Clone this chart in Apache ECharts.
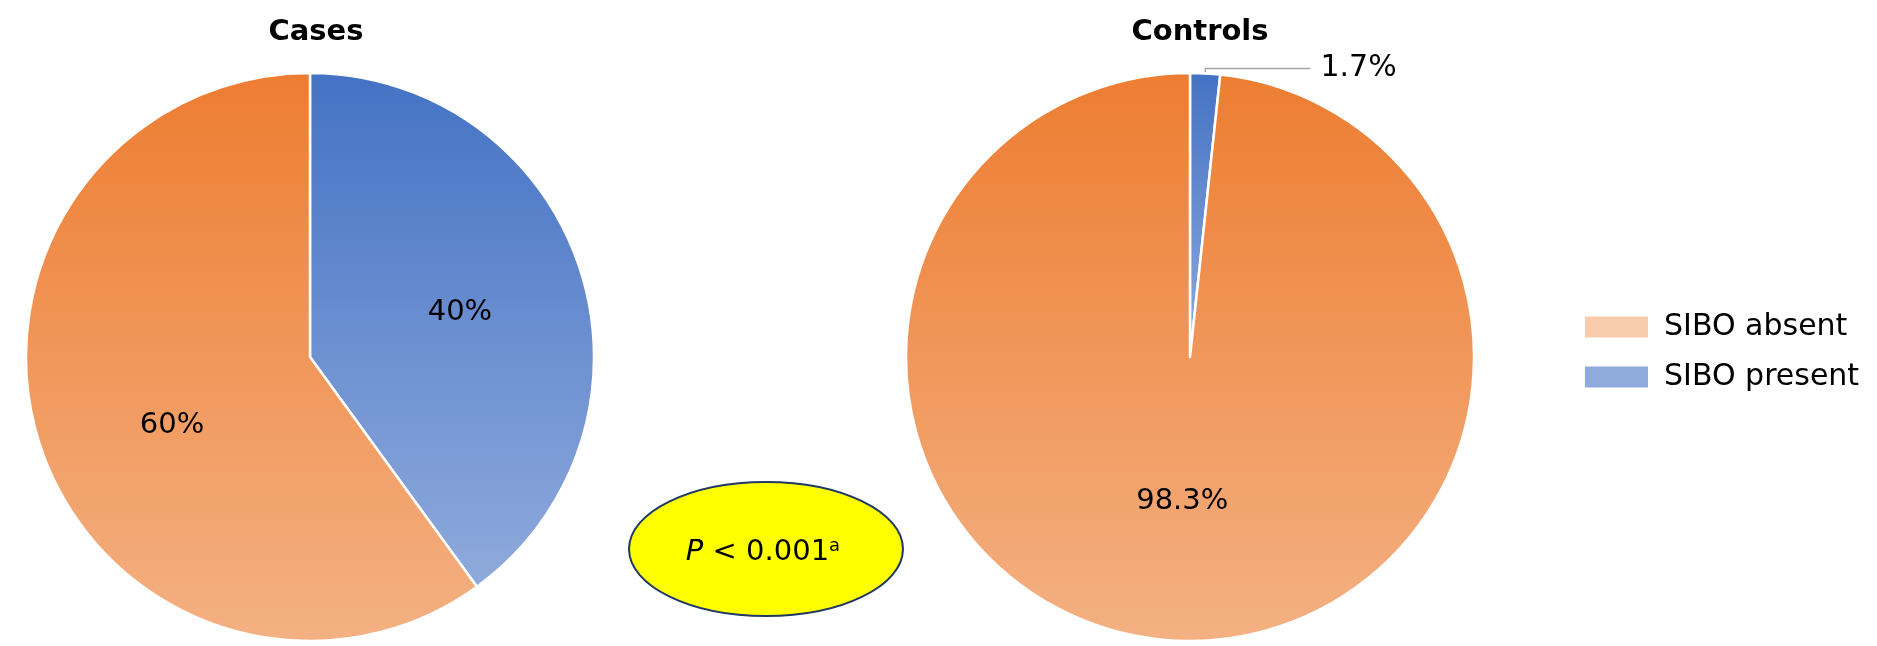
<!DOCTYPE html>
<html>
<head>
<meta charset="utf-8">
<script src="https://cdn.jsdelivr.net/npm/echarts@6/dist/echarts.min.js"></script>
<style>
  html, body { margin: 0; padding: 0; background: #fff; }
  #sibo { width: 1877px; height: 646px; }
</style>
</head>
<body>
<div id="sibo"></div>
<script>
var siboChart = echarts.init(document.getElementById('sibo'));

// groups and their SIBO proportions (%)
var groups = ['Cases', 'Controls'];
var categories = ['SIBO present', 'SIBO absent'];
var casesValues = [40, 60];
var controlsValues = [1.7, 98.3];
var labelTexts = [['40%', '60%'], ['1.7%', '98.3%']];

var FONT = 'DejaVu Sans';

function grad(top, bottom) {
    return new echarts.graphic.LinearGradient(0, 0, 0, 1, [
        { offset: 0, color: top },
        { offset: 1, color: bottom }
    ]);
}
var sliceColors = {
    'SIBO present': grad('#4472C4', '#8FAADC'),
    'SIBO absent': grad('#ED7D31', '#F4B183')
};
var legendColors = {
    'SIBO absent': '#F8CBAD',
    'SIBO present': '#8FAADC'
};

function buildData(values, texts, outsideIdx) {
    return values.map(function (v, i) {
        var item = {
            name: categories[i],
            value: v,
            itemStyle: { color: sliceColors[categories[i]] },
            label: { formatter: texts[i] }
        };
        if (i === outsideIdx) {
            item.label.position = 'outside';
            item.label.distanceToLabelLine = 10;
            item.label.fontSize = 30;
            item.labelLine = { show: true, length: 5, length2: 105 };
        }
        return item;
    });
}

var pieBase = {
    type: 'pie',
    radius: 284,
    startAngle: 90,
    clockwise: true,
    avoidLabelOverlap: false,
    animation: false,
    itemStyle: { borderColor: '#fff', borderWidth: 2.5 },
    label: {
        show: true,
        position: 'inside',
        color: '#000',
        fontFamily: FONT,
        fontSize: 29
    },
    labelLine: {
        show: false,
        lineStyle: { color: '#A6A6A6', width: 1.5 }
    },
    emphasis: { disabled: true }
};

var option = {
    animation: false,
    title: [
        {
            text: groups[0], left: 311, top: 13, textAlign: 'center',
            textStyle: { fontFamily: FONT, fontSize: 29, fontWeight: 'bold', color: '#000' }
        },
        {
            text: groups[1], left: 1195, top: 13, textAlign: 'center',
            textStyle: { fontFamily: FONT, fontSize: 29, fontWeight: 'bold', color: '#000' }
        }
    ],
    legend: {
        orient: 'vertical',
        left: 1583,
        top: 312,
        padding: 0,
        icon: 'rect',
        itemWidth: 65,
        itemHeight: 23,
        itemGap: 20,
        selectedMode: false,
        textStyle: { fontFamily: FONT, fontSize: 30, color: '#000', lineHeight: 30, padding: [0, 0, 0, 10] },
        data: ['SIBO absent', 'SIBO present'].map(function (n) {
            return { name: n, itemStyle: { color: legendColors[n] } };
        })
    },
    graphic: [
        {
            type: 'ellipse',
            shape: { cx: 766, cy: 549, rx: 137, ry: 67 },
            style: { fill: '#FFFF00', stroke: '#1F3864', lineWidth: 2 }
        },
        {
            type: 'text',
            x: 763,
            y: 552,
            style: {
                text: '{i|P} < 0.001{sup|a}',
                align: 'center',
                verticalAlign: 'middle',
                fontFamily: FONT,
                fontSize: 29,
                fill: '#000',
                rich: {
                    i: { fontFamily: FONT, fontSize: 29, fontStyle: 'italic' },
                    sup: { fontFamily: FONT, fontSize: 18, verticalAlign: 'top' }
                }
            }
        }
    ],
    series: [
        Object.assign({}, pieBase, {
            name: groups[0],
            center: [310, 357],
            data: buildData(casesValues, labelTexts[0], -1),
            labelLayout: function (params) {
                return params.dataIndex === 0 ? { dx: 12 } : { dy: 24 };
            }
        }),
        Object.assign({}, pieBase, {
            name: groups[1],
            center: [1190, 357],
            data: buildData(controlsValues, labelTexts[1], 0)
        })
    ]
};

siboChart.setOption(option);
</script>
</body>
</html>
